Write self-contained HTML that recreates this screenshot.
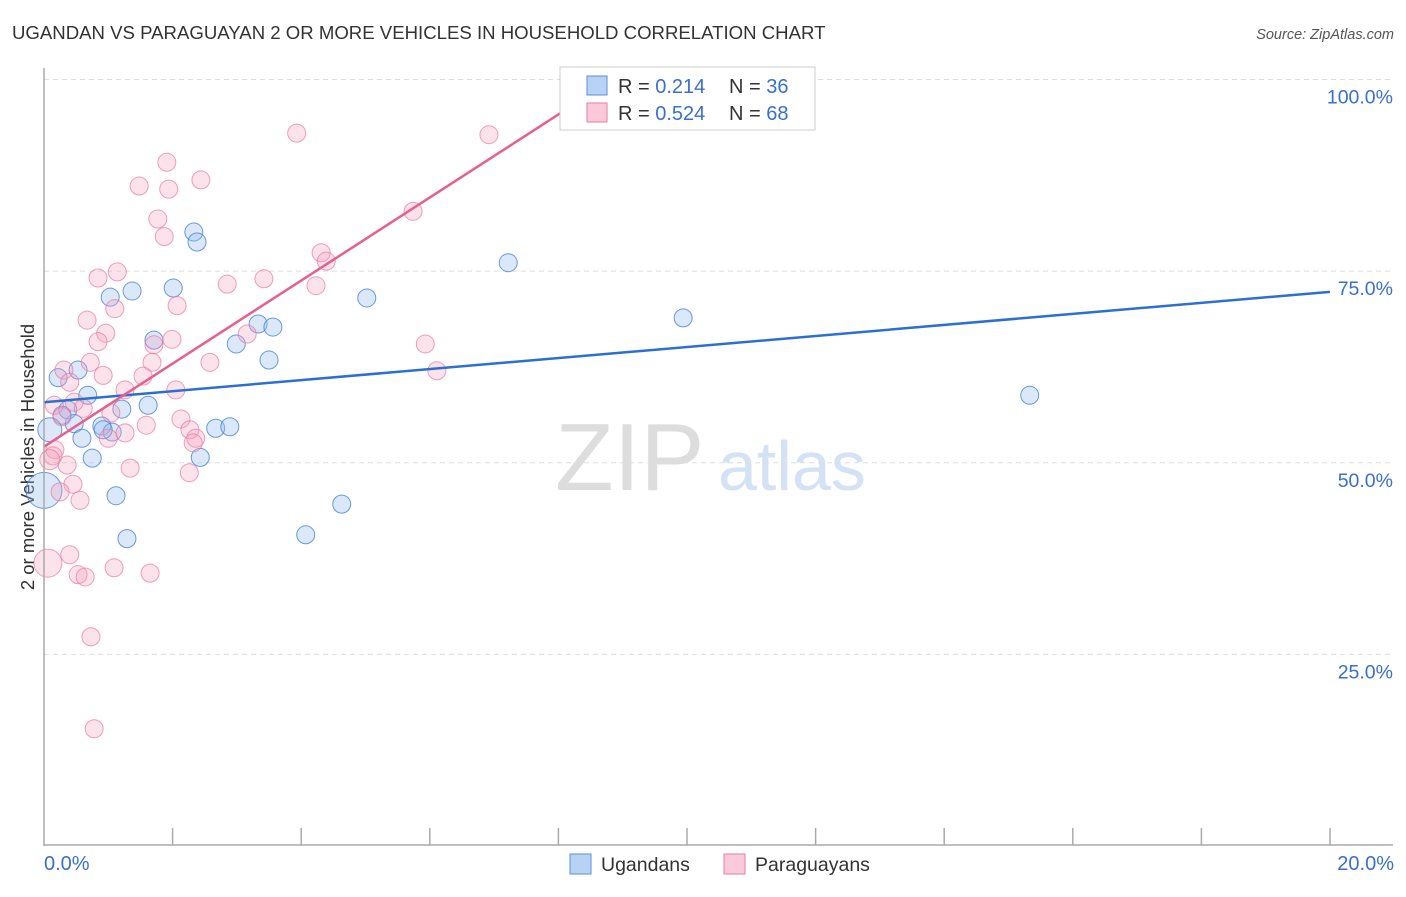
<!DOCTYPE html>
<html><head><meta charset="utf-8"><style>
body{margin:0;background:#fff;font-family:"Liberation Sans",sans-serif;}
svg text{font-family:"Liberation Sans",sans-serif;}
</style></head><body>
<svg id="c" width="1406" height="892">
<text x="12" y="39" font-size="18.6" fill="#333">UGANDAN VS PARAGUAYAN 2 OR MORE VEHICLES IN HOUSEHOLD CORRELATION CHART</text>
<text x="1394" y="39" font-size="14.5" fill="#555" text-anchor="end" font-style="italic">Source: ZipAtlas.com</text>
<text transform="translate(34,457) rotate(-90)" font-size="18.5" fill="#333" text-anchor="middle">2 or more Vehicles in Household</text>
<text x="555" y="490" font-size="96" fill="#ddd" font-family="Liberation Serif">ZIP</text>
<text x="718" y="490" font-size="70" fill="#d4e2f5">atlas</text>
<g id="grid"></g><g id="pts"></g><g id="lines"></g>
<line x1="44" y1="68" x2="44" y2="846" stroke="#aaa" stroke-width="1.5"/>
<line x1="44" y1="845" x2="1393" y2="845" stroke="#aaa" stroke-width="1.5"/>
<g id="ticks"></g>
<text x="44" y="870" font-size="20" fill="#3a6fd0">0.0%</text>
<text x="1394" y="870" font-size="20" fill="#3a6fd0" text-anchor="end">20.0%</text>
<g>
<rect x="560" y="67" width="255" height="63" fill="#fff" stroke="#ccc"/>
<rect x="587" y="76" width="20" height="19" fill="#b8d2f5" stroke="#5b8fd8"/>
<rect x="587" y="103" width="20" height="19" fill="#fbc9da" stroke="#e87ea0"/>
<text x="618" y="93" font-size="20" fill="#333">R = <tspan fill="#3a6fd0">0.214</tspan><tspan x="729">N = </tspan><tspan fill="#3a6fd0">36</tspan></text>
<text x="618" y="120" font-size="20" fill="#333">R = <tspan fill="#3a6fd0">0.524</tspan><tspan x="729">N = </tspan><tspan fill="#3a6fd0">68</tspan></text>
</g>
<g>
<rect x="570" y="854" width="21" height="20" fill="#b8d2f5" stroke="#5b8fd8"/>
<text x="601" y="871" font-size="19.5" fill="#333">Ugandans</text>
<rect x="724" y="854" width="21" height="20" fill="#fbc9da" stroke="#e87ea0"/>
<text x="755" y="871" font-size="19.5" fill="#333">Paraguayans</text>
</g>
</svg>
<script>
const yTicks=[25,50,75,100];
const yTickLabels=["25.0%","50.0%","75.0%","100.0%"];
const xTicks=[2,4,6,8,10,12,14,16,18,20];
const blueX=[2.33,2.38,7.22,1.03,1.37,2.01,5.02,3.33,3.56,1.71,2.99,3.50,9.94,0.53,0.22,0.68,15.33,1.62,1.21,0.37,0.47,0.28,0.90,1.06,0.59,2.67,2.89,0.75,2.43,1.12,4.63,1.29,4.07,0.09,0.0,0.92];
const blueY=[80.1,78.8,76.1,71.6,72.4,72.8,71.5,68.1,67.7,66.0,65.5,63.4,68.9,62.1,61.1,58.8,58.8,57.5,57.0,56.9,55.1,56.2,54.8,54.0,53.2,54.5,54.7,50.6,50.7,45.7,44.6,40.1,40.6,54.3,46.4,54.3];
const blueR=[9,9,9,9,9,9,9,9,9,9,9,9,9,9,9,9,9,9,9,9,9,9,9,9,9,9,9,9,9,9,9,9,9,12,18,9];
const pinkX=[3.93,6.92,1.91,1.48,1.94,2.44,1.77,1.87,5.74,4.31,4.39,1.14,0.84,3.42,2.85,4.23,2.07,1.10,0.67,0.96,3.16,1.99,0.84,5.93,1.71,2.58,0.31,0.72,6.11,0.92,0.40,1.68,1.26,2.05,1.54,0.47,0.16,0.61,1.04,2.13,0.28,1.59,2.27,1.26,1.00,2.36,2.32,0.17,0.14,0.36,1.34,2.26,0.45,0.25,0.56,0.40,0.06,1.09,0.53,0.64,1.65,0.73,0.78,0.09];
const pinkY=[93.0,92.8,89.2,86.1,85.7,86.9,81.8,79.5,82.8,77.4,76.3,74.9,74.1,74.0,73.3,73.1,70.5,70.1,68.6,66.9,66.8,66.1,65.8,65.5,65.4,63.1,62.1,63.1,62.0,61.4,60.5,63.1,59.5,59.5,61.3,57.9,57.5,57.1,56.5,55.7,56.0,54.9,54.3,53.9,53.2,53.2,52.6,51.7,50.9,49.7,49.3,48.7,47.2,46.2,45.1,38.0,36.9,36.3,35.4,35.1,35.6,27.3,15.3,50.4];
const blueTrend=[57.9,72.3];
const pinkTrend=[52.1,95.6];
const pinkTrendEnd=8.03;
const NS="http://www.w3.org/2000/svg";
const sx=v=>44+v/20*1286, sy=v=>846-v*7.665;
function mk(t,a,p){const e=document.createElementNS(NS,t);for(const k in a)e.setAttribute(k,a[k]);p.appendChild(e);return e;}
const grid=document.getElementById('grid'),ticks=document.getElementById('ticks'),pts=document.getElementById('pts'),lines=document.getElementById('lines');
yTicks.forEach((v,i)=>{
const g=mk('line',{x1:44,x2:1393,y1:sy(v),y2:sy(v),stroke:'#ddd','stroke-dasharray':'5,4'},grid);


const t=mk('text',{x:1393,y:sy(v)+24,'font-size':19.5,fill:'#3a6fd0','text-anchor':'end'},grid);t.textContent=yTickLabels[i];


});
xTicks.forEach(v=>{
const l=mk('line',{x1:sx(v),x2:sx(v),y1:828,y2:845,stroke:'#aaa','stroke-width':1.5},ticks);


});
blueX.forEach((x,i)=>{
const c=mk('circle',{cx:sx(x),cy:sy(blueY[i]),r:blueR[i],fill:'rgba(150,190,240,0.35)',stroke:'rgba(70,130,215,0.8)','stroke-width':1},pts);


});
pinkX.forEach((x,i)=>{
const r=(i==56)?14:(i==63?10:9);
const c=mk('circle',{cx:sx(x),cy:sy(pinkY[i]),r:r,fill:'rgba(244,160,190,0.3)',stroke:'rgba(232,120,160,0.7)','stroke-width':1},pts);


});
const bl=mk('line',{x1:sx(0),y1:sy(blueTrend[0]),x2:sx(20),y2:sy(blueTrend[1]),stroke:'#2c6fd4','stroke-width':2.5},lines);


const pl=mk('line',{x1:sx(0),y1:sy(pinkTrend[0]),x2:sx(pinkTrendEnd),y2:sy(pinkTrend[1]),stroke:'#e8608a','stroke-width':2.5},lines);


</script>
</body></html>
